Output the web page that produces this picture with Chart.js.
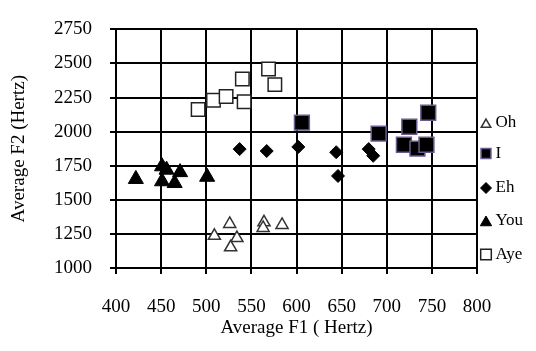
<!DOCTYPE html>
<html>
<head>
<meta charset="utf-8">
<script src="https://cdn.jsdelivr.net/npm/chart.js@4/dist/chart.umd.min.js"></script>
<style>
  html, body { margin: 0; padding: 0; background: #fff; }
  #wrap { width: 536px; height: 351px; }
</style>
</head>
<body>
<div id="wrap"><canvas id="vowelChart"></canvas></div>
<script>
// F1 / F2 averages per vowel
const ohF1 = [526, 509, 534, 527, 564, 563, 584];
const ohF2 = [1323, 1236, 1220, 1152, 1335, 1294, 1316];

const iF1 = [606, 691, 725, 746, 719, 734, 744];
const iF2 = [2066, 1986, 2036, 2139, 1904, 1876, 1904];

const ehF1 = [537, 567, 602, 644, 646, 680, 685];
const ehF2 = [1872, 1858, 1888, 1849, 1675, 1872, 1823];

const youF1 = [422, 451, 456, 451, 465, 471, 501];
const youF2 = [1652, 1745, 1720, 1635, 1622, 1702, 1668];

const ayeF1 = [491, 508, 522, 540, 542, 569, 576];
const ayeF2 = [2163, 2231, 2258, 2386, 2219, 2460, 2345];

const xTicks = [400, 450, 500, 550, 600, 650, 700, 750, 800];
const yTicks = [1000, 1250, 1500, 1750, 2000, 2250, 2500, 2750];

function toPoints(xs, ys) {
    return xs.map((x, i) => ({ x: x, y: ys[i] }));
}

Chart.defaults.font.family = '"Liberation Serif", "Times New Roman", serif';
Chart.defaults.color = '#000';

const datasets = [
    { label: 'Oh', data: toPoints(ohF1, ohF2), pointStyle: 'triangle', pointRadius: 7,
      backgroundColor: '#fff', borderColor: '#333', borderWidth: 1.5 },
    { label: 'I', data: toPoints(iF1, iF2), pointStyle: 'rect', pointRadius: 10.5,
      backgroundColor: '#000', borderColor: '#6b5a8e', borderWidth: 1.5 },
    { label: 'Eh', data: toPoints(ehF1, ehF2), pointStyle: 'rectRot', pointRadius: 6.5,
      backgroundColor: '#000', borderColor: '#000', borderWidth: 1 },
    { label: 'You', data: toPoints(youF1, youF2), pointStyle: 'triangle', pointRadius: 8.7,
      backgroundColor: '#000', borderColor: '#000', borderWidth: 1 },
    { label: 'Aye', data: toPoints(ayeF1, ayeF2), pointStyle: 'rect', pointRadius: 9.5,
      backgroundColor: '#fff', borderColor: '#222', borderWidth: 1.5 }
];

// legend on the right, drawn by hand so the spacing matches
const legendRows = [123, 153.5, 188, 221, 254.5];
const legendMarkers = [
    { pointStyle: 'triangle', radius: 5.5 },
    { pointStyle: 'rect', radius: 7 },
    { pointStyle: 'rectRot', radius: 5.5 },
    { pointStyle: 'triangle', radius: 6.5 },
    { pointStyle: 'rect', radius: 7.5 }
];

const sideLegend = {
    id: 'sideLegend',
    afterDraw(chart) {
        const ctx = chart.ctx;
        ctx.save();
        ctx.font = '17px "Liberation Serif", "Times New Roman", serif';
        ctx.textBaseline = 'middle';
        ctx.textAlign = 'left';
        chart.data.datasets.forEach((ds, i) => {
            const y = legendRows[i];
            const m = legendMarkers[i];
            ctx.fillStyle = ds.backgroundColor;
            ctx.strokeStyle = ds.borderColor;
            ctx.lineWidth = ds.borderWidth;
            Chart.helpers.drawPoint(ctx, {
                pointStyle: m.pointStyle, radius: m.radius, rotation: 0, borderWidth: ds.borderWidth
            }, 486, y + (m.pointStyle === 'triangle' ? 1.5 : 0));
            ctx.fillStyle = '#000';
            ctx.fillText(ds.label, 495.5, y);
        });
        ctx.restore();
    }
};

new Chart(document.getElementById('vowelChart').getContext('2d'), {
    type: 'scatter',
    data: { datasets: datasets },
    plugins: [sideLegend],
    options: {
        responsive: true,
        maintainAspectRatio: false,
        animation: false,
        layout: { padding: { left: 0, right: 59, top: 12, bottom: 0 } },
        plugins: { legend: { display: false }, tooltip: { enabled: false } },
        scales: {
            x: {
                type: 'linear',
                min: 400,
                max: 800,
                afterFit: (s) => { s.height = 83; },
                afterBuildTicks: (s) => { s.ticks = xTicks.map(v => ({ value: v })); },
                grid: { color: '#000', lineWidth: 2, tickLength: 6 },
                border: { color: '#000', width: 2 },
                ticks: { font: { size: 19 }, padding: 22, maxRotation: 0, callback: (v) => String(v) },
                title: { display: true, text: 'Average F1 ( Hertz)', font: { size: 19 }, padding: { top: 0, bottom: 12 } }
            },
            y: {
                type: 'linear',
                min: 1000,
                max: 2750,
                afterFit: (s) => { s.width = 116; },
                afterBuildTicks: (s) => { s.ticks = yTicks.map(v => ({ value: v })); },
                grid: { color: '#000', lineWidth: 2, tickLength: 6 },
                border: { color: '#000', width: 2 },
                ticks: { font: { size: 19 }, padding: 18, callback: (v) => String(v) },
                title: { display: true, text: 'Average F2 (Hertz)', font: { size: 19 }, padding: { top: 8, bottom: 0 } }
            }
        }
    }
});
</script>
</body>
</html>
